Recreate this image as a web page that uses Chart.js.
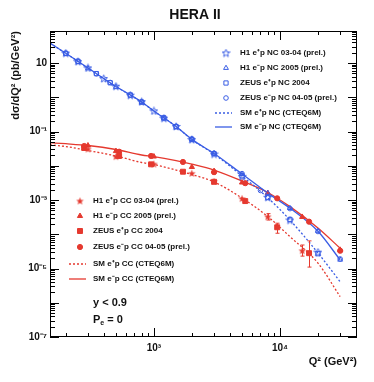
<!DOCTYPE html>
<html>
<head>
<meta charset="utf-8">
<script src="https://cdn.jsdelivr.net/npm/chart.js@4/dist/chart.umd.min.js"></script>
<style>
html, body { margin: 0; padding: 0; background: #fff; }
</style>
</head>
<body>
<canvas id="c" width="374" height="382"></canvas>
<script>
// ---- data (Q2 in GeV^2, dsigma/dQ2 in pb/GeV^2) ----
var smQ2 = [150, 200, 300, 500, 800, 1000, 1500, 2000, 3000, 5000, 8000, 12000, 20000, 30000];
var smNCep = [38, 19.2, 7.1, 2.05, 0.72, 0.395, 0.14, 0.058, 0.022, 0.0050, 0.00116, 0.00026, 0.0000284, 0.0000041];
var smNCem = [38, 19.2, 7.15, 2.06, 0.73, 0.397, 0.14, 0.059, 0.0228, 0.00575, 0.00159, 0.000575, 0.000122, 0.0000178];
var smCCep = [0.0404, 0.0365, 0.0279, 0.0193, 0.01245, 0.0109, 0.0075, 0.00556, 0.00336, 0.00114, 0.00033, 0.000085, 0.0000144, 0.0000015];
var smCCem = [0.0471, 0.044, 0.039, 0.0298, 0.0206, 0.0186, 0.0142, 0.0112, 0.0075, 0.00359, 0.00166, 0.00064, 0.000152, 0.000039];

var h1NCepQ2 = [200, 250, 300, 400, 500, 650, 800, 1000, 1200, 1500, 2000, 3000, 5000, 8000, 12000, 20000];
var h1NCepVal = [19.5, 11.0, 7.2, 3.5, 2.1, 1.15, 0.74, 0.40, 0.245, 0.14, 0.058, 0.022, 0.0049, 0.0012, 0.00026, 0.00003];
var h1NCemQ2 = [300, 500, 800, 1200, 2000, 3000, 5000, 8000, 12000, 20000, 30000];
var h1NCemVal = [7.0, 2.0, 0.72, 0.24, 0.06, 0.023, 0.0058, 0.0016, 0.00058, 0.000125, 0.000018];
var zeusNCepQ2 = [200, 250, 350, 450, 650, 800, 1200, 1500, 2000, 3000, 5000, 8000, 12000, 20000];
var zeusNCepVal = [19.0, 11.2, 4.9, 2.65, 1.17, 0.72, 0.25, 0.138, 0.059, 0.0225, 0.0051, 0.00118, 0.00027, 0.000027];
var zeusNCemQ2 = [200, 250, 350, 450, 650, 800, 1200, 1500, 2000, 3000, 5000, 7000, 12000, 20000, 30000];
var zeusNCemVal = [19.4, 11.3, 4.85, 2.7, 1.15, 0.74, 0.25, 0.142, 0.06, 0.023, 0.0059, 0.0019, 0.00056, 0.00012, 0.000019];

var h1CCepQ2 = [300, 500, 1000, 2000, 3000, 5000, 8000, 15000];
var h1CCepVal = [0.0308, 0.0184, 0.0112, 0.0060, 0.00347, 0.0011, 0.000325, 0.000033];
var h1CCemQ2 = [300, 500, 1000, 2000, 3000, 5000, 8000, 15000, 30000];
var h1CCemVal = [0.039, 0.0268, 0.0186, 0.0092, 0.0070, 0.00324, 0.0016, 0.00032, 0.000035];
var zeusCCepQ2 = [280, 530, 950, 1700, 3000, 5300, 9500, 17000];
var zeusCCepVal = [0.033, 0.0193, 0.011, 0.0067, 0.0034, 0.00093, 0.00016, 0.000028];
var zeusCCemQ2 = [280, 530, 950, 1700, 3000, 5300, 9500, 17000, 30000];
var zeusCCemVal = [0.0378, 0.0257, 0.0193, 0.0129, 0.0065, 0.0031, 0.00112, 0.000233, 0.000033];

// error bars on the e+p CC points at high Q2
var errQ2 = [8000, 9500, 15000, 17000];
var errLo = [0.00026, 0.000107, 0.000023, 0.000011];
var errHi = [0.0004, 0.00021, 0.0000485, 0.000064];

var xTickVals = [1000, 10000];
var xTickText = ['10³', '10⁴'];
var yTickVals = [1e-7, 1e-5, 1e-3, 1e-1, 10];
var yTickText = ['10⁻⁷', '10⁻⁵', '10⁻³', '10⁻¹', '10'];

var ncLegend = ['H1 e⁺p NC 03-04 (prel.)', 'H1 e⁻p NC 2005 (prel.)', 'ZEUS e⁺p NC 2004', 'ZEUS e⁻p NC 04-05 (prel.)', 'SM e⁺p NC (CTEQ6M)', 'SM e⁻p NC (CTEQ6M)'];
var ccLegend = ['H1 e⁺p CC 03-04 (prel.)', 'H1 e⁻p CC 2005 (prel.)', 'ZEUS e⁺p CC 2004', 'ZEUS e⁻p CC 04-05 (prel.)', 'SM e⁺p CC (CTEQ6M)', 'SM e⁻p CC (CTEQ6M)'];

var BLUE = '#3a5de4';
var RED = '#e5392f';
var FONT = '"Liberation Sans", Arial, Helvetica, sans-serif';

function starImage(color, filled) {
  var c = document.createElement('canvas');
  c.width = 9; c.height = 9;
  var g = c.getContext('2d');
  g.beginPath();
  for (var i = 0; i < 10; i++) {
    var r = i % 2 ? 1.7 : 4;
    var a = -Math.PI / 2 + i * Math.PI / 5;
    g.lineTo(4.5 + r * Math.cos(a), 4.8 + r * Math.sin(a));
  }
  g.closePath();
  if (filled) { g.fillStyle = color; g.fill(); }
  else { g.strokeStyle = color; g.lineWidth = 1; g.stroke(); }
  return c;
}

function pts(xs, ys) {
  return xs.map(function (x, i) { return { x: x, y: ys[i] }; });
}

function marks(label, xs, ys, color, style, radius, filled) {
  return {
    label: label, data: pts(xs, ys), showLine: false,
    pointStyle: style, pointRadius: radius,
    borderColor: color, pointBorderWidth: 1,
    backgroundColor: filled ? color : 'rgba(0,0,0,0)'
  };
}

function curve(label, ys, color, dashed) {
  return {
    label: label, data: pts(smQ2, ys), showLine: true,
    borderColor: color, borderWidth: 1.3, borderDash: dashed ? [2, 2] : [],
    pointRadius: 0, cubicInterpolationMode: 'monotone', fill: false
  };
}

var datasets = [
  marks(ncLegend[0], h1NCepQ2, h1NCepVal, BLUE, starImage(BLUE, false), 4, false),
  marks(ncLegend[1], h1NCemQ2, h1NCemVal, BLUE, 'triangle', 2.8, false),
  marks(ncLegend[2], zeusNCepQ2, zeusNCepVal, BLUE, 'rect', 3, false),
  marks(ncLegend[3], zeusNCemQ2, zeusNCemVal, BLUE, 'circle', 2.3, false),
  marks(ccLegend[0], h1CCepQ2, h1CCepVal, RED, starImage(RED, true), 4, true),
  marks(ccLegend[1], h1CCemQ2, h1CCemVal, RED, 'triangle', 3, true),
  marks(ccLegend[2], zeusCCepQ2, zeusCCepVal, RED, 'rect', 3.5, true),
  marks(ccLegend[3], zeusCCemQ2, zeusCCemVal, RED, 'circle', 2.6, true),
  curve(ncLegend[4], smNCep, BLUE, true),
  curve(ncLegend[5], smNCem, BLUE, false),
  curve(ccLegend[4], smCCep, RED, true),
  curve(ccLegend[5], smCCem, RED, false)
];

function findSet(chart, label) {
  return chart.data.datasets.filter(function (d) { return d.label === label; })[0];
}

function drawLegend(chart, labels, markX, textX, rows) {
  var ctx = chart.ctx;
  labels.forEach(function (lab, i) {
    var ds = findSet(chart, lab);
    var y = rows[i];
    ctx.save();
    if (ds.showLine) {
      ctx.strokeStyle = ds.borderColor;
      ctx.lineWidth = 1.3;
      ctx.setLineDash(ds.borderDash);
      ctx.beginPath();
      ctx.moveTo(markX - 11, y);
      ctx.lineTo(markX + 6, y);
      ctx.stroke();
    } else {
      ctx.strokeStyle = ds.borderColor;
      ctx.fillStyle = ds.backgroundColor;
      Chart.helpers.drawPoint(ctx, { pointStyle: ds.pointStyle, radius: ds.pointRadius, borderWidth: 1, rotation: 0 }, markX, y);
    }
    ctx.restore();
    ctx.fillStyle = '#111';
    ctx.font = 'bold 8px ' + FONT;
    ctx.textBaseline = 'middle';
    ctx.textAlign = 'left';
    ctx.fillText(lab, textX, y);
  });
}

var decor = {
  id: 'decor',
  afterDatasetsDraw: function (chart) {
    var ctx = chart.ctx, xs = chart.scales.x, ys = chart.scales.y;
    ctx.save();
    ctx.strokeStyle = RED;
    ctx.lineWidth = 1;
    errQ2.forEach(function (q, i) {
      var px = Math.round(xs.getPixelForValue(q)) + 0.5;
      var lo = ys.getPixelForValue(errLo[i]), hi = ys.getPixelForValue(errHi[i]);
      ctx.beginPath();
      ctx.moveTo(px, lo); ctx.lineTo(px, hi);
      ctx.moveTo(px - 2, lo); ctx.lineTo(px + 2, lo);
      ctx.moveTo(px - 2, hi); ctx.lineTo(px + 2, hi);
      ctx.stroke();
    });
    ctx.restore();
  },
  afterDraw: function (chart) {
    var ctx = chart.ctx, a = chart.chartArea, xs = chart.scales.x, ys = chart.scales.y;
    ctx.save();
    ctx.strokeStyle = '#000';
    ctx.lineWidth = 1;
    ctx.strokeRect(a.left + 0.5, a.top + 0.5, a.right - a.left - 1, a.bottom - a.top - 1);
    ctx.beginPath();
    var e, m, v, p, len;
    for (e = 2; e <= 4; e++) {
      for (m = 1; m < 10; m++) {
        v = m * Math.pow(10, e);
        if (v < xs.min || v > xs.max) continue;
        p = Math.round(xs.getPixelForValue(v)) + 0.5;
        len = m === 1 ? 9 : 4;
        ctx.moveTo(p, a.bottom); ctx.lineTo(p, a.bottom - len);
        ctx.moveTo(p, a.top); ctx.lineTo(p, a.top + len);
      }
    }
    for (e = -7; e <= 1; e++) {
      for (m = 1; m < 10; m++) {
        v = m * Math.pow(10, e);
        if (v < ys.min || v > ys.max) continue;
        p = Math.round(ys.getPixelForValue(v)) + 0.5;
        len = m === 1 ? 9 : 5;
        ctx.moveTo(a.left, p); ctx.lineTo(a.left + len, p);
        ctx.moveTo(a.right, p); ctx.lineTo(a.right - len, p);
      }
    }
    ctx.stroke();
    ctx.restore();

    // title
    ctx.fillStyle = '#111';
    ctx.font = 'bold 14px ' + FONT;
    ctx.textAlign = 'center';
    ctx.textBaseline = 'middle';
    ctx.fillText('HERA II', 195, 15);

    drawLegend(chart, ncLegend, 226, 240, [53, 68, 83, 98, 113, 127]);
    drawLegend(chart, ccLegend, 80, 93, [201, 216, 231, 247, 264, 279]);

    ctx.fillStyle = '#111';
    ctx.font = 'bold 11px ' + FONT;
    ctx.textAlign = 'left';
    ctx.textBaseline = 'middle';
    ctx.fillText('y < 0.9', 93, 303);
    ctx.fillText('P', 93, 320);
    var w = ctx.measureText('P').width;
    ctx.font = 'bold 7px ' + FONT;
    ctx.fillText('e', 93 + w, 323);
    var w2 = ctx.measureText('e').width;
    ctx.font = 'bold 11px ' + FONT;
    ctx.fillText(' = 0', 93 + w + w2, 320);
  }
};

new Chart(document.getElementById('c'), {
  type: 'scatter',
  data: { datasets: datasets },
  options: {
    responsive: false,
    animation: false,
    layout: { padding: { top: 31, right: 17, left: 0, bottom: 0 } },
    plugins: { legend: { display: false }, tooltip: { enabled: false } },
    scales: {
      x: {
        type: 'logarithmic', min: 150, max: 40800,
        afterBuildTicks: function (s) { s.ticks = xTickVals.map(function (v) { return { value: v }; }); },
        afterFit: function (s) { s.height = 45; },
        grid: { display: false, drawTicks: false },
        border: { display: false },
        ticks: {
          autoSkip: false, maxRotation: 0, padding: 5, color: '#111',
          font: { family: FONT, size: 10, weight: 'bold' },
          callback: function (v) { return xTickText[xTickVals.indexOf(v)]; }
        },
        title: {
          display: true, text: 'Q² (GeV²)', align: 'end', color: '#111',
          font: { family: FONT, size: 11, weight: 'bold' },
          padding: { top: 0, bottom: 13 }
        }
      },
      y: {
        type: 'logarithmic', min: 1e-7, max: 86,
        afterBuildTicks: function (s) { s.ticks = yTickVals.map(function (v) { return { value: v }; }); },
        afterFit: function (s) { s.width = 50; },
        grid: { display: false, drawTicks: false },
        border: { display: false },
        ticks: {
          autoSkip: false, padding: 3, color: '#111',
          font: { family: FONT, size: 10, weight: 'bold' },
          callback: function (v) { return yTickText[yTickVals.indexOf(v)]; }
        },
        title: {
          display: true, text: 'dσ/dQ² (pb/GeV²)', align: 'end', color: '#111',
          font: { family: FONT, size: 11, weight: 'bold' },
          padding: { top: 9, bottom: 0 }
        }
      }
    }
  },
  plugins: [decor]
});
</script>
</body>
</html>
